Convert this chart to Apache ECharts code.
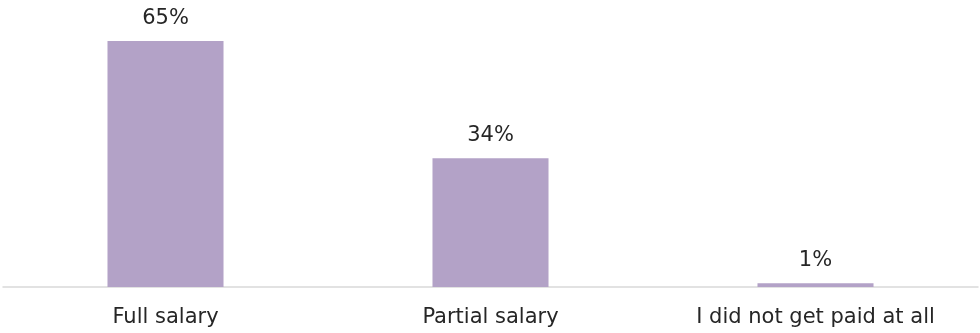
<!DOCTYPE html>
<html><head><meta charset="utf-8">
<script src="https://cdn.jsdelivr.net/npm/echarts@6/dist/echarts.min.js"></script>
<style>html,body{margin:0;padding:0;background:#fff}#c{width:980px;height:333px}</style>
</head><body><div id="c"></div>
<script>
const categories = ["Full salary", "Partial salary", "I did not get paid at all"];
const values = [65, 34, 1];
const chart = echarts.init(document.getElementById('c'));
chart.setOption({
  animation: false,
  grid: {left: 3, right: 2, top: 22, bottom: 46},
  xAxis: {
    type: 'category', data: categories,
    axisLine: {lineStyle: {color: '#d9d9d9', width: 1.5}},
    axisTick: {show: false},
    axisLabel: {color: '#262626', fontSize: 21, fontFamily: 'DejaVu Sans', margin: 20}
  },
  yAxis: {type: 'value', min: 0, max: 70, show: false, splitLine: {show: false}},
  series: [{
    type: 'bar', data: values, barWidth: '35.7%',
    itemStyle: {color: '#b3a2c7'},
    label: {show: true, position: 'top', distance: 12, formatter: '{c}%', color: '#262626', fontSize: 21, fontFamily: 'DejaVu Sans'}
  }]
});
</script></body></html>
